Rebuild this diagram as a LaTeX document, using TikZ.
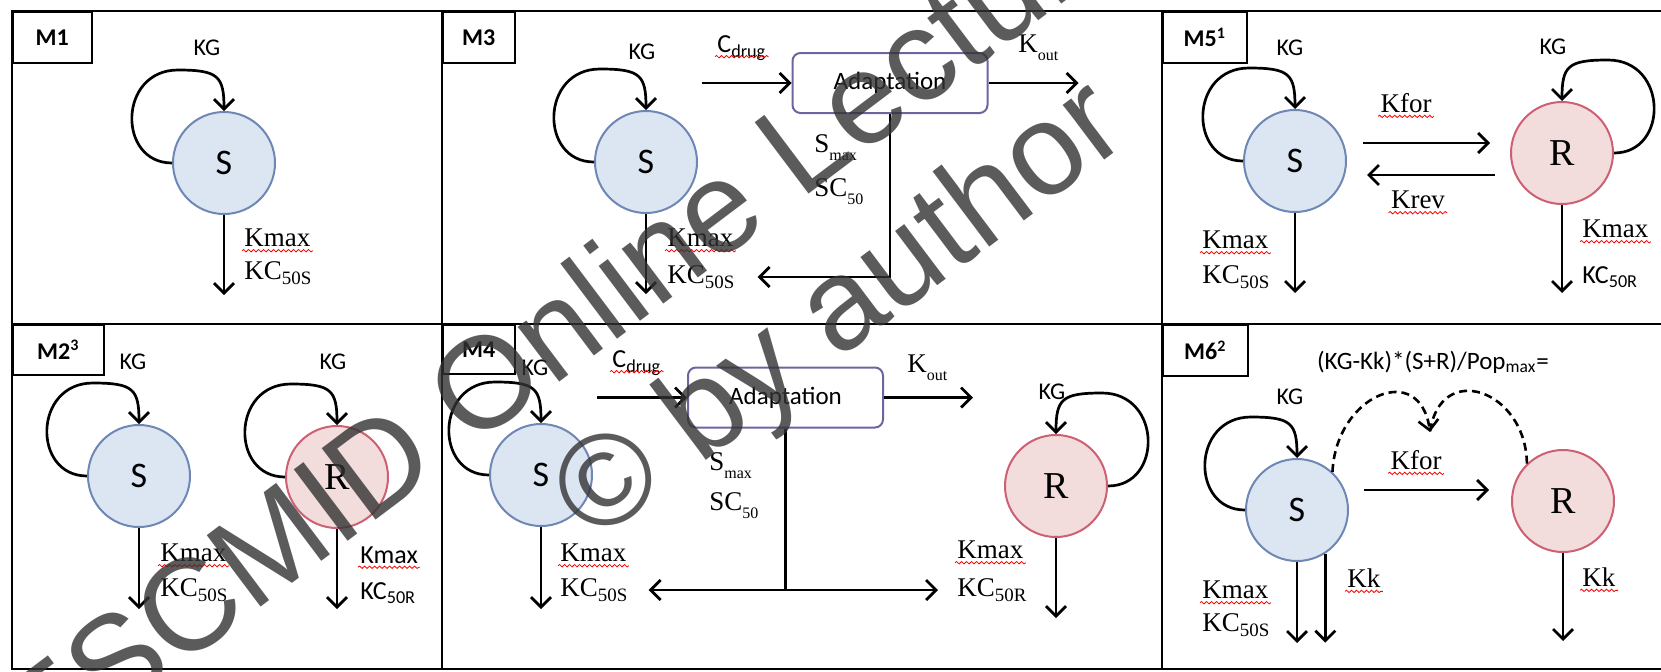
\documentclass[tikz,border=0pt]{standalone}
\usepackage{fontspec}
\setmainfont{Liberation Serif}
\newfontfamily\calfont{Carlito}
\newfontfamily\wmfont{Liberation Sans}
\usetikzlibrary{arrows.meta,decorations.pathmorphing}
\definecolor{sfill}{RGB}{220,230,242}
\definecolor{sline}{RGB}{110,135,180}
\definecolor{rfill}{RGB}{242,220,220}
\definecolor{rline}{RGB}{206,96,116}
\definecolor{adline}{RGB}{112,100,160}
\newcommand{\lowsub}[1]{\raisebox{-4pt}{\fontsize{8}{9}\selectfont #1}}

\begin{document}
\begin{tikzpicture}[x=0.5pt, y=-0.5pt,
        >={Straight Barb[length=5pt,width=10pt]},
        arrow/.style={line width=1.35pt, ->}, % 实线箭头
        dasharrow/.style={line width=1.3pt, dash pattern=on 4pt off 2.5pt}, % 虚线
        panel/.style={line width=0.8pt},
        tag/.style={draw, line width=0.8pt, anchor=north west, inner sep=0pt, minimum height=25.5pt, font=\calfont\bfseries\fontsize{12}{14}\selectfont},
        scirc/.style={circle, draw=sline, fill=sfill, line width=1pt, minimum size=51pt, inner sep=0pt, font=\calfont\fontsize{18}{20}\selectfont},
        rcirc/.style={circle, draw=rline, fill=rfill, line width=1pt, minimum size=51pt, inner sep=0pt, font=\fontsize{19}{21}\selectfont},
        kg/.style={inner sep=1pt, font=\calfont\fontsize{12}{14}\selectfont},
        lab/.style={anchor=west, inner sep=1pt, font=\fontsize{13.5}{15}\selectfont}, % Times 标签
        slab/.style={anchor=west, inner sep=1pt, font=\calfont\fontsize{13}{15}\selectfont},
        adapt/.style={draw=adline, line width=1pt, rounded corners=4pt, fill=white, minimum width=97.5pt, minimum height=30pt, font=\calfont\fontsize{12.5}{14}\selectfont},
        wavy/.style={draw=red, line width=0.4pt, decorate, decoration={snake, amplitude=0.6pt, segment length=2.5pt}},
        spell/.style={append after command={([yshift=-2pt]\tikzlastnode.base west) edge[wavy] ([yshift=-2pt]\tikzlastnode.base east)}},
        wmark/.style={rotate=37, text=black!80, text opacity=0.8, font=\wmfont\fontsize{65}{70}\selectfont}
    ]

    % 面板边框
    \fill[white] (0,0) rectangle (1661,671);
    \useasboundingbox (0,0) rectangle (1661,671);
    \draw[panel] (12,11) rectangle (1680,669);
    \draw[panel] (12,324) -- (1680,324);
    \draw[panel] (442,11) -- (442,669);
    \draw[panel] (1162,11) -- (1162,669);

    % M1
    \node (m1) [tag, minimum width=39.5pt] at (12,11) {M1};
    \node (s1) [scirc] at (224,163) {S};
    \node (kg1) [kg] at (207,48) {KG};
    \node (kmax1) [lab, spell] at (242,238) {Kmax};
    \node (kc1) [lab] at (242,273) {KC\textsubscript{50S}};
    \draw [arrow] (s1.west) .. controls +(-55,0) and +(-60,0) .. ([shift={(6,-93)}]s1.west) .. controls +(40,0) and +(0,-35) .. (s1.north);
    \draw [arrow] (s1.south) -- ++(0,80);

    % M3
    \node (m3) [tag, minimum width=36pt] at (442,11) {M3};
    \node (s3) [scirc] at (646,162) {S};
    \node (kg3) [kg] at (642,52) {KG};
    \node (ad3) [adapt] at (890,83) {Adaptation};
    \node (cd3) [slab, spell] at (715,48) {C\textsubscript{drug}};
    \node (ko3) [lab] at (1016,48) {K\lowsub{out}};
    \node (sm3) [lab] at (812,148) {S\lowsub{max}};
    \node (sc3) [lab] at (812,192) {SC\lowsub{50}};
    \node (kmax3) [lab, spell] at (665,238) {Kmax};
    \node (kc3) [lab] at (665,277) {KC\textsubscript{50S}};
    \draw [arrow] (s3.west) .. controls +(-55,0) and +(-60,0) .. ([shift={(6,-93)}]s3.west) .. controls +(40,0) and +(0,-35) .. (s3.north);
    \draw [arrow] (s3.south) -- ++(0,80);
    \draw [arrow] ([xshift=-45pt]ad3.west) -- (ad3.west);
    \draw [arrow] (ad3.east) -- ++(90,0);
    \draw [arrow] (ad3.south) |- ([xshift=10pt]kc3.east);

    % M5
    \node (m5) [tag, minimum width=42pt] at (1162,11) {M5\textsuperscript{1}};
    \node (s5) [scirc] at (1295,161) {S};
    \node (r5) [rcirc] at (1562,153) {R};
    \node (kg5s) [kg] at (1290,48) {KG};
    \node (kg5r) [kg] at (1553,47) {KG};
    \draw [arrow] (s5.west) .. controls +(-55,0) and +(-60,0) .. ([shift={(6,-93)}]s5.west) .. controls +(40,0) and +(0,-35) .. (s5.north);
    \draw [arrow] (r5.east) .. controls +(55,0) and +(60,0) .. ([shift={(-6,-93)}]r5.east) .. controls +(-40,0) and +(0,-35) .. (r5.north);
    \draw [arrow] ([shift={(16,-18)}]s5.east) -- ([shift={(-20,-10)}]r5.west);
    \draw [arrow] ([shift={(-15,22)}]r5.west) -- ([shift={(20,14)}]s5.east);
    \node (kf5) [lab, anchor=center, spell] at (1406,103) {Kfor};
    \node (kr5) [lab, anchor=center, spell] at (1418,200) {Krev};
    \draw [arrow] (s5.south) -- ++(0,80);
    \draw [arrow] (r5.south) -- ++(0,88);
    \node (kmax5s) [lab, spell] at (1200,240) {Kmax};
    \node (kc5s) [lab] at (1200,277) {KC\textsubscript{50S}};
    \node (kmax5r) [lab, spell] at (1580,229) {Kmax};
    \node (kc5r) [slab] at (1580,277) {KC\textsubscript{50R}};

    % M2
    \node (m2) [tag, minimum width=45.5pt, minimum height=25pt] at (12,324) {M2\textsuperscript{3}};
    \node (s2) [scirc] at (139,476) {S};
    \node (r2) [rcirc] at (337,477) {R};
    \node (kg2s) [kg] at (133,362) {KG};
    \node (kg2r) [kg] at (333,362) {KG};
    \draw [arrow] (s2.west) .. controls +(-55,0) and +(-60,0) .. ([shift={(6,-93)}]s2.west) .. controls +(40,0) and +(0,-35) .. (s2.north);
    \draw [arrow] (r2.west) .. controls +(-55,0) and +(-60,0) .. ([shift={(6,-93)}]r2.west) .. controls +(40,0) and +(0,-35) .. (r2.north);
    \draw [arrow] (s2.south) -- ++(0,81);
    \draw [arrow] (r2.south) -- ++(0,80);
    \node (kmax2s) [lab, spell] at (158,553) {Kmax};
    \node (kc2s) [lab] at (158,590) {KC\textsubscript{50S}};
    \node (kmax2r) [slab, spell] at (358,555) {Kmax};
    \node (kc2r) [slab] at (358,593) {KC\textsubscript{50R}};

    % M4
    \node (m4) [tag, minimum width=36pt, minimum height=24.5pt] at (442,324) {M4};
    \node (s4) [scirc] at (541,475) {S};
    \node (r4) [rcirc] at (1056,486) {R};
    \node (kg4s) [kg] at (535,368) {KG};
    \node (kg4r) [kg] at (1052,392) {KG};
    \node (ad4) [adapt] at (785.5,397.5) {Adaptation};
    \node (cd4) [slab, spell] at (610,363) {C\textsubscript{drug}};
    \node (ko4) [lab] at (905,368) {K\lowsub{out}};
    \node (sm4) [lab] at (707,466) {S\lowsub{max}};
    \node (sc4) [lab] at (707,506) {SC\lowsub{50}};
    \node (kmax4s) [lab, spell] at (558,553) {Kmax};
    \node (kc4s) [lab] at (558,590) {KC\textsubscript{50S}};
    \node (kmax4r) [lab, spell] at (955,550) {Kmax};
    \node (kc4r) [lab] at (955,590) {KC\textsubscript{50R}};
    \draw [arrow] (s4.west) .. controls +(-55,0) and +(-60,0) .. ([shift={(6,-93)}]s4.west) .. controls +(40,0) and +(0,-35) .. (s4.north);
    \draw [arrow] (r4.east) .. controls +(55,0) and +(60,0) .. ([shift={(-6,-93)}]r4.east) .. controls +(-40,0) and +(0,-35) .. (r4.north);
    \draw [arrow] ([xshift=-45pt]ad4.west) -- (ad4.west);
    \draw [arrow] (ad4.east) -- ++(89,0);
    \draw [line width=1.35pt] (ad4.south) -- (ad4.south |- kc4s.east);
    \draw [arrow, <->] ([xshift=9pt]kc4s.east) -- ([xshift=-8.5pt]kc4r.west);
    \draw [arrow] (s4.south) -- ++(0,82);
    \draw [arrow] (r4.south) -- ++(0,80);

    % M6
    \node (m6) [tag, minimum width=42.5pt] at (1162,324) {M6\textsuperscript{2}};
    \node (s6) [scirc] at (1297,510) {S};
    \node (r6) [rcirc] at (1563,501) {R};
    \node (kg6) [kg] at (1290,397) {KG};
    \node (pop) [kg, font=\calfont\fontsize{12.5}{14}\selectfont] at (1433,362) {(KG-Kk)*(S+R)/Pop\textsubscript{max}=};
    \coordinate (meet) at (1430,432);
    \draw [arrow] (s6.west) .. controls +(-55,0) and +(-60,0) .. ([shift={(6,-93)}]s6.west) .. controls +(40,0) and +(0,-35) .. (s6.north);
    \draw [dasharrow, ->] (s6.47) .. controls (1336,395) and (1420,360) .. (meet);
    \draw [dasharrow] (r6.134) .. controls (1526,390) and (1440,360) .. (meet);
    \draw [arrow] ([shift={(15,-20)}]s6.east) -- ([shift={(-22,-11)}]r6.west);
    \node (kf6) [lab, anchor=center, spell] at (1416,460) {Kfor};
    \draw [arrow] (s6.south) -- ++(0,81);
    \draw [arrow] (s6.-57) -- ++(0,89);
    \draw [arrow] (r6.south) -- ++(0,88);
    \node (kmax6) [lab, spell] at (1200,590) {Kmax};
    \node (kc6) [lab] at (1200,625) {KC\textsubscript{50S}};
    \node (kk6s) [lab, spell] at (1345,578) {Kk};
    \node (kk6r) [lab, spell] at (1580,577) {Kk};

    % 水印
    \node (wm1) [wmark] at (565,320) {ESCMID Online Lecture};
    \node (wm2) [wmark] at (843,315) {\textcopyright{} by author};

\end{tikzpicture}
\end{document}
